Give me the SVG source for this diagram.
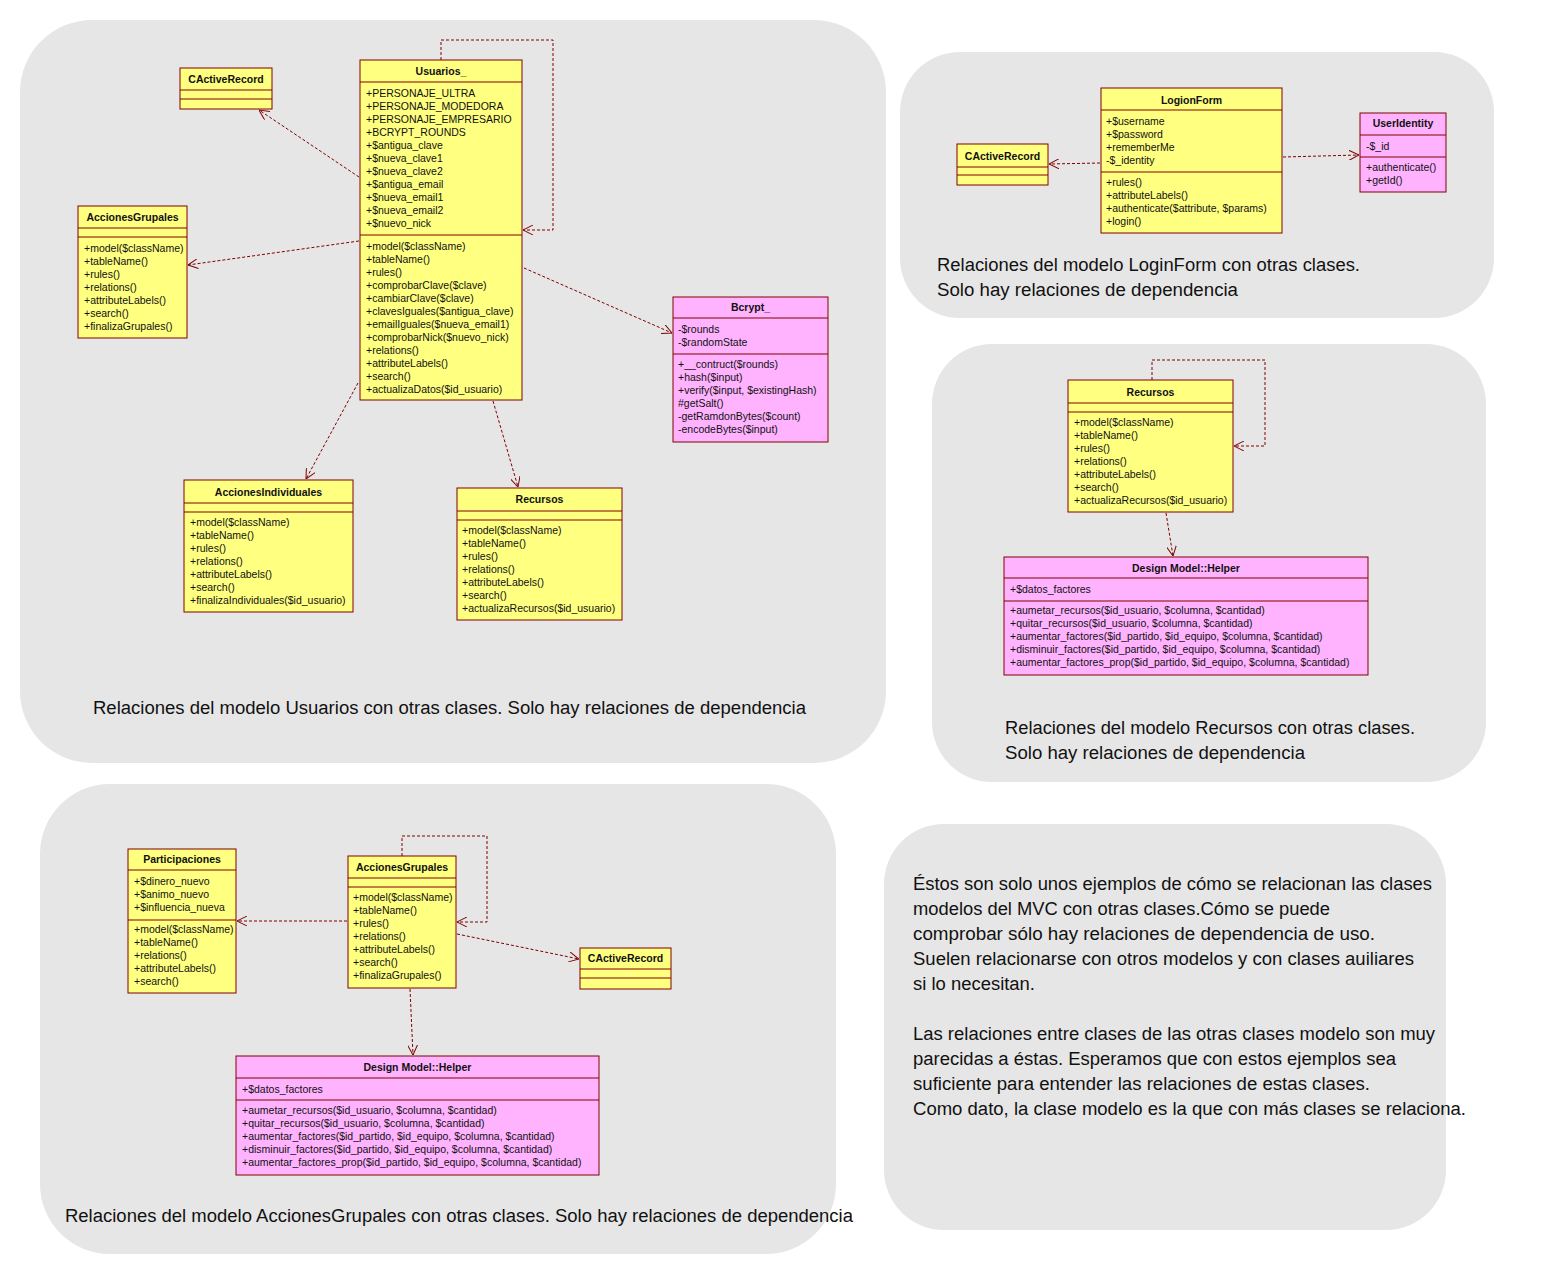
<svg xmlns="http://www.w3.org/2000/svg" width="1552" height="1276" viewBox="0 0 1552 1276">
<defs>
<style>
.panel{fill:#e6e6e6}
.box{stroke:#800000;stroke-width:1}
.y{fill:#ffff80}
.p{fill:#ffb3ff}
.ln{stroke:#800000;stroke-width:1}
.t{font-family:"Liberation Sans",Arial,sans-serif;font-size:10.5px;fill:#111}
.b{font-weight:bold;text-anchor:middle}
.cap{font-family:"Liberation Sans",Arial,sans-serif;font-size:18px;fill:#111}
.dep{stroke:#800000;fill:none;stroke-width:1;stroke-dasharray:3,2;marker-end:url(#arr)}
</style>
<marker id="arr" viewBox="0 0 10 10" refX="10" refY="5" markerWidth="10" markerHeight="10" markerUnits="userSpaceOnUse" orient="auto">
<path d="M0,0 L10,5 L0,10" fill="none" stroke="#800000" stroke-width="1"/>
</marker>
</defs>
<rect width="1552" height="1276" fill="#ffffff"/>
<g id="panels">
<rect class="panel" x="20" y="20" width="866" height="743" rx="72" ry="72"/>
<rect class="panel" x="900" y="52" width="594" height="266" rx="60" ry="60"/>
<rect class="panel" x="932" y="344" width="554" height="438" rx="60" ry="60"/>
<rect class="panel" x="40" y="784" width="796" height="470" rx="70" ry="70"/>
<rect class="panel" x="884" y="824" width="562" height="406" rx="60" ry="60"/>
</g>
<g id="connectors">
<path class="dep" d="M441,60 V40 H553 V230 H523"/>
<path class="dep" d="M359,177 L259,110"/>
<path class="dep" d="M359,241 L188,265"/>
<path class="dep" d="M524,268 L672,333"/>
<path class="dep" d="M358,383 L306,479"/>
<path class="dep" d="M493,401 L518,487"/>
<path class="dep" d="M1100,163 L1049,164"/>
<path class="dep" d="M1283,157 L1359,155"/>
<path class="dep" d="M1152,380 V360 H1265 V446 H1234"/>
<path class="dep" d="M1166,513 L1173,556"/>
<path class="dep" d="M402,856 V836 H487 V922 H457"/>
<path class="dep" d="M347,921 L237,921"/>
<path class="dep" d="M457,934 L579,959"/>
<path class="dep" d="M410,989 L413,1055"/>
</g>
<g id="usuarios">
<rect class="box y" x="360" y="60" width="162" height="340"/>
<line class="ln" x1="360" y1="82" x2="522" y2="82"/>
<line class="ln" x1="360" y1="235" x2="522" y2="235"/>
<text class="t b" x="441" y="75">Usuarios_</text>
<text class="t" x="366" y="97">+PERSONAJE_ULTRA</text>
<text class="t" x="366" y="110">+PERSONAJE_MODEDORA</text>
<text class="t" x="366" y="123">+PERSONAJE_EMPRESARIO</text>
<text class="t" x="366" y="136">+BCRYPT_ROUNDS</text>
<text class="t" x="366" y="149">+$antigua_clave</text>
<text class="t" x="366" y="162">+$nueva_clave1</text>
<text class="t" x="366" y="175">+$nueva_clave2</text>
<text class="t" x="366" y="188">+$antigua_email</text>
<text class="t" x="366" y="201">+$nueva_email1</text>
<text class="t" x="366" y="214">+$nueva_email2</text>
<text class="t" x="366" y="227">+$nuevo_nick</text>
<text class="t" x="366" y="250">+model($className)</text>
<text class="t" x="366" y="263">+tableName()</text>
<text class="t" x="366" y="276">+rules()</text>
<text class="t" x="366" y="289">+comprobarClave($clave)</text>
<text class="t" x="366" y="302">+cambiarClave($clave)</text>
<text class="t" x="366" y="315">+clavesIguales($antigua_clave)</text>
<text class="t" x="366" y="328">+emailIguales($nueva_email1)</text>
<text class="t" x="366" y="341">+comprobarNick($nuevo_nick)</text>
<text class="t" x="366" y="354">+relations()</text>
<text class="t" x="366" y="367">+attributeLabels()</text>
<text class="t" x="366" y="380">+search()</text>
<text class="t" x="366" y="393">+actualizaDatos($id_usuario)</text>
</g>
<g id="cactiverecord-a">
<rect class="box y" x="180" y="68" width="92" height="41"/>
<line class="ln" x1="180" y1="90" x2="272" y2="90"/>
<line class="ln" x1="180" y1="99" x2="272" y2="99"/>
<text class="t b" x="226" y="83">CActiveRecord</text>
</g>
<g id="accionesgrupales-a">
<rect class="box y" x="78" y="206" width="109" height="132"/>
<line class="ln" x1="78" y1="228" x2="187" y2="228"/>
<line class="ln" x1="78" y1="237" x2="187" y2="237"/>
<text class="t b" x="132.5" y="221">AccionesGrupales</text>
<text class="t" x="84" y="252">+model($className)</text>
<text class="t" x="84" y="265">+tableName()</text>
<text class="t" x="84" y="278">+rules()</text>
<text class="t" x="84" y="291">+relations()</text>
<text class="t" x="84" y="304">+attributeLabels()</text>
<text class="t" x="84" y="317">+search()</text>
<text class="t" x="84" y="330">+finalizaGrupales()</text>
</g>
<g id="bcrypt">
<rect class="box p" x="673" y="297" width="155" height="145"/>
<line class="ln" x1="673" y1="318" x2="828" y2="318"/>
<line class="ln" x1="673" y1="354" x2="828" y2="354"/>
<text class="t b" x="750.5" y="311">Bcrypt_</text>
<text class="t" x="678" y="333">-$rounds</text>
<text class="t" x="678" y="346">-$randomState</text>
<text class="t" x="678" y="368">+__contruct($rounds)</text>
<text class="t" x="678" y="381">+hash($input)</text>
<text class="t" x="678" y="394">+verify($input, $existingHash)</text>
<text class="t" x="678" y="407">#getSalt()</text>
<text class="t" x="678" y="420">-getRamdonBytes($count)</text>
<text class="t" x="678" y="433">-encodeBytes($input)</text>
</g>
<g id="accionesindividuales">
<rect class="box y" x="184" y="480" width="169" height="132"/>
<line class="ln" x1="184" y1="503" x2="353" y2="503"/>
<line class="ln" x1="184" y1="512" x2="353" y2="512"/>
<text class="t b" x="268.5" y="496">AccionesIndividuales</text>
<text class="t" x="190" y="526">+model($className)</text>
<text class="t" x="190" y="539">+tableName()</text>
<text class="t" x="190" y="552">+rules()</text>
<text class="t" x="190" y="565">+relations()</text>
<text class="t" x="190" y="578">+attributeLabels()</text>
<text class="t" x="190" y="591">+search()</text>
<text class="t" x="190" y="604">+finalizaIndividuales($id_usuario)</text>
</g>
<g id="recursos-a">
<rect class="box y" x="457" y="488" width="165" height="132"/>
<line class="ln" x1="457" y1="511" x2="622" y2="511"/>
<line class="ln" x1="457" y1="520" x2="622" y2="520"/>
<text class="t b" x="539.5" y="503">Recursos</text>
<text class="t" x="462" y="534">+model($className)</text>
<text class="t" x="462" y="547">+tableName()</text>
<text class="t" x="462" y="560">+rules()</text>
<text class="t" x="462" y="573">+relations()</text>
<text class="t" x="462" y="586">+attributeLabels()</text>
<text class="t" x="462" y="599">+search()</text>
<text class="t" x="462" y="612">+actualizaRecursos($id_usuario)</text>
</g>
<g id="caption-a">
<text class="cap" x="93" y="714" textLength="713" lengthAdjust="spacingAndGlyphs">Relaciones del modelo Usuarios con otras clases. Solo hay relaciones de dependencia</text>
</g>
<g id="loginform">
<rect class="box y" x="1101" y="88" width="181" height="145"/>
<line class="ln" x1="1101" y1="110" x2="1282" y2="110"/>
<line class="ln" x1="1101" y1="172" x2="1282" y2="172"/>
<text class="t b" x="1191.5" y="104">LogionForm</text>
<text class="t" x="1106" y="125">+$username</text>
<text class="t" x="1106" y="138">+$password</text>
<text class="t" x="1106" y="151">+rememberMe</text>
<text class="t" x="1106" y="164">-$_identity</text>
<text class="t" x="1106" y="186">+rules()</text>
<text class="t" x="1106" y="199">+attributeLabels()</text>
<text class="t" x="1106" y="212">+authenticate($attribute, $params)</text>
<text class="t" x="1106" y="225">+login()</text>
</g>
<g id="cactiverecord-b">
<rect class="box y" x="957" y="144" width="91" height="41"/>
<line class="ln" x1="957" y1="167" x2="1048" y2="167"/>
<line class="ln" x1="957" y1="175" x2="1048" y2="175"/>
<text class="t b" x="1002.5" y="160">CActiveRecord</text>
</g>
<g id="useridentity">
<rect class="box p" x="1360" y="113" width="86" height="79"/>
<line class="ln" x1="1360" y1="135" x2="1446" y2="135"/>
<line class="ln" x1="1360" y1="157" x2="1446" y2="157"/>
<text class="t b" x="1403" y="127">UserIdentity</text>
<text class="t" x="1366" y="150">-$_id</text>
<text class="t" x="1366" y="171">+authenticate()</text>
<text class="t" x="1366" y="184">+getId()</text>
</g>
<g id="caption-b">
<text class="cap" x="937" y="271" textLength="423" lengthAdjust="spacingAndGlyphs">Relaciones del modelo LoginForm con otras clases.</text>
<text class="cap" x="937" y="296" textLength="301" lengthAdjust="spacingAndGlyphs">Solo hay relaciones de dependencia</text>
</g>
<g id="recursos-c">
<rect class="box y" x="1068" y="380" width="165" height="132"/>
<line class="ln" x1="1068" y1="403" x2="1233" y2="403"/>
<line class="ln" x1="1068" y1="412" x2="1233" y2="412"/>
<text class="t b" x="1150.5" y="396">Recursos</text>
<text class="t" x="1074" y="426">+model($className)</text>
<text class="t" x="1074" y="439">+tableName()</text>
<text class="t" x="1074" y="452">+rules()</text>
<text class="t" x="1074" y="465">+relations()</text>
<text class="t" x="1074" y="478">+attributeLabels()</text>
<text class="t" x="1074" y="491">+search()</text>
<text class="t" x="1074" y="504">+actualizaRecursos($id_usuario)</text>
</g>
<g id="helper-c">
<rect class="box p" x="1004" y="557" width="364" height="118"/>
<line class="ln" x1="1004" y1="578" x2="1368" y2="578"/>
<line class="ln" x1="1004" y1="601" x2="1368" y2="601"/>
<text class="t b" x="1186" y="572">Design Model::Helper</text>
<text class="t" x="1010" y="593">+$datos_factores</text>
<text class="t" x="1010" y="614">+aumetar_recursos($id_usuario, $columna, $cantidad)</text>
<text class="t" x="1010" y="627">+quitar_recursos($id_usuario, $columna, $cantidad)</text>
<text class="t" x="1010" y="640">+aumentar_factores($id_partido, $id_equipo, $columna, $cantidad)</text>
<text class="t" x="1010" y="653">+disminuir_factores($id_partido, $id_equipo, $columna, $cantidad)</text>
<text class="t" x="1010" y="666">+aumentar_factores_prop($id_partido, $id_equipo, $columna, $cantidad)</text>
</g>
<g id="caption-c">
<text class="cap" x="1005" y="734" textLength="410" lengthAdjust="spacingAndGlyphs">Relaciones del modelo Recursos con otras clases.</text>
<text class="cap" x="1005" y="759" textLength="300" lengthAdjust="spacingAndGlyphs">Solo hay relaciones de dependencia</text>
</g>
<g id="participaciones">
<rect class="box y" x="128" y="849" width="108" height="144"/>
<line class="ln" x1="128" y1="870" x2="236" y2="870"/>
<line class="ln" x1="128" y1="920" x2="236" y2="920"/>
<text class="t b" x="182" y="863">Participaciones</text>
<text class="t" x="134" y="885">+$dinero_nuevo</text>
<text class="t" x="134" y="898">+$animo_nuevo</text>
<text class="t" x="134" y="911">+$influencia_nueva</text>
<text class="t" x="134" y="933">+model($className)</text>
<text class="t" x="134" y="946">+tableName()</text>
<text class="t" x="134" y="959">+relations()</text>
<text class="t" x="134" y="972">+attributeLabels()</text>
<text class="t" x="134" y="985">+search()</text>
</g>
<g id="accionesgrupales-d">
<rect class="box y" x="348" y="856" width="108" height="132"/>
<line class="ln" x1="348" y1="878" x2="456" y2="878"/>
<line class="ln" x1="348" y1="887" x2="456" y2="887"/>
<text class="t b" x="402" y="871">AccionesGrupales</text>
<text class="t" x="353" y="901">+model($className)</text>
<text class="t" x="353" y="914">+tableName()</text>
<text class="t" x="353" y="927">+rules()</text>
<text class="t" x="353" y="940">+relations()</text>
<text class="t" x="353" y="953">+attributeLabels()</text>
<text class="t" x="353" y="966">+search()</text>
<text class="t" x="353" y="979">+finalizaGrupales()</text>
</g>
<g id="cactiverecord-d">
<rect class="box y" x="580" y="948" width="91" height="41"/>
<line class="ln" x1="580" y1="969" x2="671" y2="969"/>
<line class="ln" x1="580" y1="978" x2="671" y2="978"/>
<text class="t b" x="625.5" y="962">CActiveRecord</text>
</g>
<g id="helper-d">
<rect class="box p" x="236" y="1056" width="363" height="119"/>
<line class="ln" x1="236" y1="1078" x2="599" y2="1078"/>
<line class="ln" x1="236" y1="1100" x2="599" y2="1100"/>
<text class="t b" x="417.5" y="1071">Design Model::Helper</text>
<text class="t" x="242" y="1093">+$datos_factores</text>
<text class="t" x="242" y="1114">+aumetar_recursos($id_usuario, $columna, $cantidad)</text>
<text class="t" x="242" y="1127">+quitar_recursos($id_usuario, $columna, $cantidad)</text>
<text class="t" x="242" y="1140">+aumentar_factores($id_partido, $id_equipo, $columna, $cantidad)</text>
<text class="t" x="242" y="1153">+disminuir_factores($id_partido, $id_equipo, $columna, $cantidad)</text>
<text class="t" x="242" y="1166">+aumentar_factores_prop($id_partido, $id_equipo, $columna, $cantidad)</text>
</g>
<g id="caption-d">
<text class="cap" x="65" y="1222" textLength="788" lengthAdjust="spacingAndGlyphs">Relaciones del modelo AccionesGrupales con otras clases. Solo hay relaciones de dependencia</text>
</g>
<g id="note-e">
<text class="cap" x="913" y="890" textLength="519" lengthAdjust="spacingAndGlyphs">Éstos son solo unos ejemplos de cómo se relacionan las clases</text>
<text class="cap" x="913" y="915" textLength="417" lengthAdjust="spacingAndGlyphs">modelos del MVC con otras clases.Cómo se puede</text>
<text class="cap" x="913" y="940" textLength="462" lengthAdjust="spacingAndGlyphs">comprobar sólo hay relaciones de dependencia de uso.</text>
<text class="cap" x="913" y="965" textLength="501" lengthAdjust="spacingAndGlyphs">Suelen relacionarse con otros modelos y con clases auiliares</text>
<text class="cap" x="913" y="990" textLength="122" lengthAdjust="spacingAndGlyphs">si lo necesitan.</text>
<text class="cap" x="913" y="1040" textLength="522" lengthAdjust="spacingAndGlyphs">Las relaciones entre clases de las otras clases modelo son muy</text>
<text class="cap" x="913" y="1065" textLength="483" lengthAdjust="spacingAndGlyphs">parecidas a éstas. Esperamos que con estos ejemplos sea</text>
<text class="cap" x="913" y="1090" textLength="457" lengthAdjust="spacingAndGlyphs">suficiente para entender las relaciones de estas clases.</text>
<text class="cap" x="913" y="1115" textLength="553" lengthAdjust="spacingAndGlyphs">Como dato, la clase modelo es la que con más clases se relaciona.</text>
</g>
</svg>
